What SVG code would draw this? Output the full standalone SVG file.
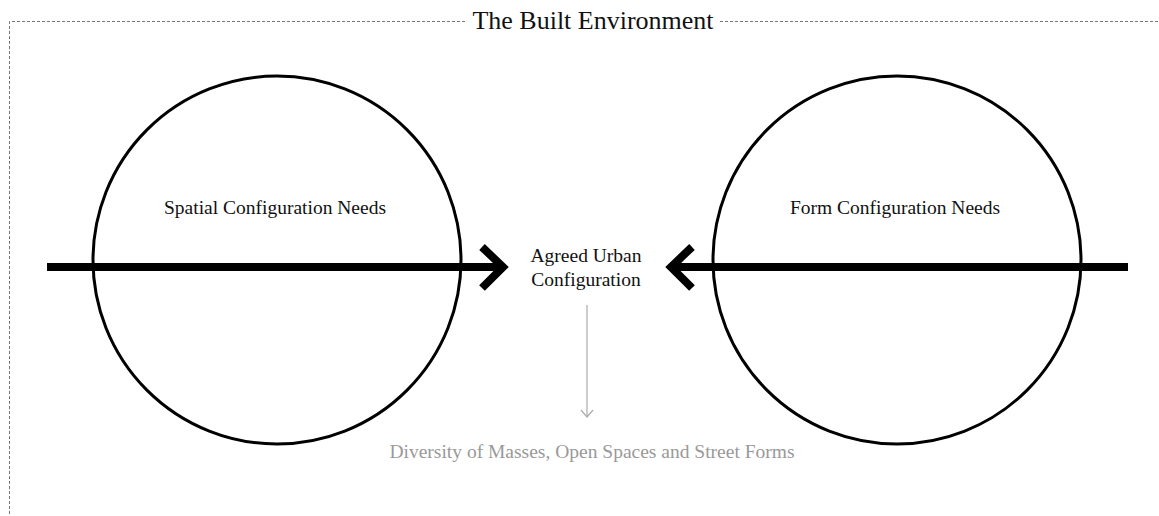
<svg xmlns="http://www.w3.org/2000/svg" width="1159" height="516" viewBox="0 0 1159 516">
<style>
text{font-family:"Liberation Serif","Times New Roman",serif;fill:#111}
.frame{fill:none;stroke:#777;stroke-width:1;stroke-dasharray:3,2}
.circ{fill:none;stroke:#000;stroke-width:3}
.big{fill:none;stroke:#000;stroke-width:8}
.lbl{font-size:19.5px;text-anchor:middle}
.out{font-size:19.5px;text-anchor:middle;fill:#999}
.thin{fill:none;stroke:#aaa;stroke-width:1.2}
</style>
<rect width="1159" height="516" fill="#fff"/>
<g id="frame">
<path class="frame" d="M465,21.5 H9.5 V516"/>
<path class="frame" d="M720,21.5 H1159"/>
<text x="593" y="29" style="font-size:26px;text-anchor:middle">The Built Environment</text>
</g>
<g id="spatial">
<circle class="circ" cx="277" cy="260" r="184"/>
<text class="lbl" x="275" y="214">Spatial Configuration Needs</text>
</g>
<g id="form">
<circle class="circ" cx="897" cy="260" r="184"/>
<text class="lbl" x="895" y="214">Form Configuration Needs</text>
</g>
<g id="agreed">
<text class="lbl" x="586" y="262">Agreed Urban</text>
<text class="lbl" x="586" y="286">Configuration</text>
</g>
<g id="diversity">
<text class="out" x="592" y="458">Diversity of Masses, Open Spaces and Street Forms</text>
</g>
<g id="connectors">
<path class="big" d="M47,267 H500"/>
<path class="big" d="M482,247 L503,267 L482,288"/>
<path class="big" d="M1128,267 H675"/>
<path class="big" d="M692,247 L671,267 L692,288"/>
<path class="thin" d="M587,305 V417"/>
<path class="thin" d="M581,410 L587,417 L593,410"/>
</g>
</svg>
